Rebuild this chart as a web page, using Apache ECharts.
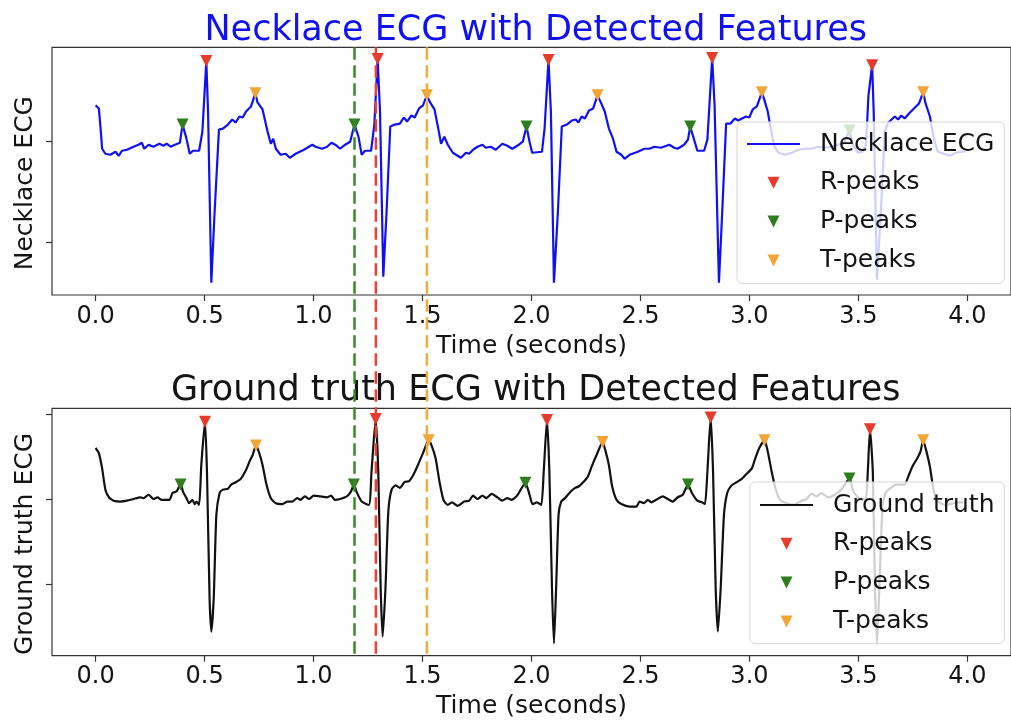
<!DOCTYPE html>
<html>
<head>
<meta charset="utf-8">
<script src="https://cdn.jsdelivr.net/npm/echarts@6/dist/echarts.min.js"></script>
<style>
  html, body { margin: 0; padding: 0; background: #ffffff; }
  #chart { width: 1011px; height: 721px; }
</style>
</head>
<body>
<div id="chart"></div>
<script>
// ---- x axis ----
const timeTicks = [0, 0.5, 1.0, 1.5, 2.0, 2.5, 3.0, 3.5, 4.0];
const timeMin = -0.2;
const timeMax = 4.2;

// ---- necklace ECG: [time (s), amplitude] ----
const necklaceECG = [
  [0.000,0.36],[0.015,0.33],[0.023,0.13],[0.030,-0.07],[0.045,-0.12],[0.068,-0.13],[0.091,-0.10],[0.106,-0.14],
  [0.121,-0.09],[0.144,-0.08],[0.174,-0.05],[0.197,-0.03],[0.212,-0.01],[0.223,-0.07],[0.243,-0.03],[0.265,-0.05],
  [0.293,-0.02],[0.311,-0.04],[0.326,-0.02],[0.344,-0.05],[0.364,-0.03],[0.387,-0.01],[0.399,0.17],[0.417,0.03],
  [0.432,-0.12],[0.447,-0.09],[0.475,-0.09],[0.490,0.10],[0.508,0.80],[0.516,0.30],[0.531,-1.40],[0.546,-0.70],
  [0.566,0.12],[0.584,0.13],[0.607,0.17],[0.627,0.22],[0.642,0.19],[0.660,0.25],[0.675,0.24],[0.690,0.30],
  [0.713,0.35],[0.733,0.48],[0.743,0.39],[0.766,0.32],[0.789,0.10],[0.804,-0.02],[0.815,0.03],[0.827,-0.07],
  [0.849,-0.13],[0.872,-0.12],[0.891,-0.16],[0.918,-0.12],[0.956,-0.08],[0.994,-0.03],[1.009,-0.05],[1.039,-0.07],
  [1.062,-0.05],[1.082,-0.01],[1.100,-0.03],[1.122,-0.07],[1.145,-0.03],[1.168,0.00],[1.188,0.17],[1.206,0.05],
  [1.221,-0.13],[1.236,-0.09],[1.264,-0.09],[1.279,0.17],[1.294,0.82],[1.305,0.30],[1.320,-1.34],[1.335,-0.70],
  [1.352,0.15],[1.373,0.17],[1.396,0.18],[1.414,0.24],[1.429,0.20],[1.449,0.26],[1.464,0.24],[1.484,0.33],
  [1.502,0.36],[1.520,0.46],[1.532,0.40],[1.555,0.32],[1.575,0.10],[1.585,-0.02],[1.600,0.05],[1.616,-0.03],
  [1.639,-0.11],[1.676,-0.16],[1.699,-0.11],[1.714,-0.12],[1.732,-0.08],[1.752,-0.05],[1.775,-0.03],[1.790,-0.06],
  [1.813,-0.05],[1.836,-0.08],[1.866,-0.02],[1.889,-0.04],[1.912,-0.07],[1.942,-0.03],[1.960,0.00],[1.977,0.15],
  [1.991,0.00],[2.003,-0.11],[2.048,-0.10],[2.060,0.13],[2.078,0.81],[2.089,0.30],[2.103,-1.40],[2.121,-0.70],
  [2.139,0.15],[2.162,0.17],[2.185,0.21],[2.203,0.22],[2.215,0.19],[2.230,0.25],[2.245,0.23],[2.264,0.31],
  [2.283,0.33],[2.303,0.46],[2.318,0.39],[2.336,0.30],[2.355,0.13],[2.374,0.03],[2.390,-0.10],[2.412,-0.13],
  [2.427,-0.17],[2.450,-0.13],[2.488,-0.10],[2.518,-0.07],[2.541,-0.07],[2.564,-0.05],[2.594,-0.06],[2.632,-0.03],
  [2.655,-0.06],[2.670,-0.07],[2.700,-0.03],[2.718,0.02],[2.728,0.15],[2.746,0.02],[2.761,-0.09],[2.792,-0.09],
  [2.807,0.02],[2.829,0.83],[2.840,0.36],[2.860,-1.40],[2.875,-0.70],[2.893,0.18],[2.913,0.18],[2.933,0.23],
  [2.948,0.21],[2.966,0.23],[2.984,0.25],[2.999,0.24],[3.015,0.32],[3.034,0.35],[3.057,0.49],[3.069,0.41],
  [3.084,0.30],[3.100,0.10],[3.115,-0.05],[3.133,-0.11],[3.164,-0.13],[3.194,-0.11],[3.224,-0.08],[3.255,-0.07],
  [3.285,-0.07],[3.315,-0.05],[3.346,-0.06],[3.376,-0.05],[3.406,-0.03],[3.433,-0.02],[3.459,0.11],[3.474,-0.03],
  [3.497,-0.11],[3.519,-0.10],[3.535,-0.03],[3.546,0.46],[3.563,0.76],[3.570,0.30],[3.585,-1.37],[3.603,-0.70],
  [3.621,0.10],[3.634,0.18],[3.652,0.22],[3.667,0.25],[3.682,0.22],[3.697,0.26],[3.712,0.23],[3.732,0.28],
  [3.755,0.33],[3.778,0.38],[3.797,0.49],[3.808,0.38],[3.828,0.25],[3.846,0.03],[3.864,-0.10],[3.892,-0.12],
  [3.922,-0.14],[3.945,-0.11],[3.975,-0.10],[3.990,-0.10]
];

// ---- ground truth ECG: [time (s), amplitude] ----
const groundTruthECG = [
  [0.000,0.60],[0.015,0.54],[0.030,0.36],[0.045,0.11],[0.061,0.02],[0.083,-0.02],[0.114,-0.03],[0.144,-0.02],
  [0.174,0.00],[0.205,0.02],[0.220,0.01],[0.243,0.05],[0.265,0.00],[0.284,0.02],[0.303,-0.01],[0.338,-0.01],
  [0.353,0.07],[0.372,0.09],[0.390,0.17],[0.402,0.08],[0.417,0.01],[0.429,-0.05],[0.444,-0.01],[0.455,-0.06],
  [0.463,-0.03],[0.475,-0.07],[0.485,0.40],[0.502,0.91],[0.511,0.32],[0.523,-1.17],[0.531,-1.56],[0.542,-1.17],
  [0.554,-0.19],[0.569,0.07],[0.584,0.11],[0.607,0.12],[0.622,0.17],[0.645,0.20],[0.667,0.24],[0.690,0.34],
  [0.706,0.44],[0.721,0.52],[0.736,0.63],[0.751,0.54],[0.766,0.40],[0.784,0.17],[0.804,0.01],[0.827,-0.05],
  [0.857,-0.06],[0.880,-0.03],[0.903,-0.03],[0.925,0.01],[0.940,-0.01],[0.960,0.03],[0.979,0.00],[1.001,0.04],
  [1.031,0.03],[1.062,0.02],[1.081,0.04],[1.097,-0.01],[1.122,0.00],[1.153,0.03],[1.172,0.09],[1.185,0.17],
  [1.198,0.08],[1.221,-0.03],[1.254,-0.07],[1.266,0.32],[1.285,0.94],[1.297,0.32],[1.308,-1.05],[1.317,-1.62],
  [1.330,-1.05],[1.343,-0.15],[1.358,0.11],[1.377,0.16],[1.396,0.13],[1.418,0.20],[1.438,0.21],[1.457,0.28],
  [1.479,0.40],[1.502,0.54],[1.528,0.69],[1.540,0.64],[1.560,0.48],[1.578,0.20],[1.596,-0.01],[1.616,-0.07],
  [1.635,-0.04],[1.661,-0.08],[1.691,-0.03],[1.714,-0.02],[1.732,0.04],[1.752,0.00],[1.775,0.04],[1.793,0.01],
  [1.817,0.06],[1.843,0.02],[1.866,-0.02],[1.889,0.01],[1.909,-0.01],[1.934,0.04],[1.972,0.19],[1.991,0.05],
  [2.005,-0.06],[2.025,-0.04],[2.045,-0.07],[2.056,0.32],[2.071,0.93],[2.082,0.32],[2.094,-1.05],[2.103,-1.70],
  [2.113,-1.05],[2.124,-0.19],[2.136,-0.03],[2.154,0.01],[2.177,0.08],[2.200,0.13],[2.218,0.15],[2.238,0.20],
  [2.258,0.26],[2.276,0.38],[2.299,0.52],[2.326,0.67],[2.340,0.56],[2.355,0.40],[2.370,0.15],[2.390,-0.01],
  [2.412,-0.06],[2.450,-0.09],[2.481,-0.09],[2.496,-0.03],[2.515,-0.05],[2.534,-0.01],[2.549,-0.04],[2.572,-0.01],
  [2.602,0.03],[2.625,0.00],[2.648,-0.03],[2.671,0.02],[2.694,0.05],[2.718,0.17],[2.736,0.07],[2.761,-0.02],
  [2.784,-0.04],[2.796,-0.06],[2.807,0.32],[2.822,0.96],[2.833,0.32],[2.845,-1.05],[2.855,-1.56],[2.868,-1.05],
  [2.883,-0.19],[2.898,0.07],[2.918,0.16],[2.943,0.20],[2.966,0.24],[2.989,0.30],[3.011,0.36],[3.027,0.48],
  [3.045,0.60],[3.069,0.69],[3.084,0.56],[3.102,0.32],[3.121,0.11],[3.141,-0.01],[3.171,-0.05],[3.202,-0.07],
  [3.232,-0.03],[3.262,0.00],[3.285,0.06],[3.308,0.03],[3.330,0.07],[3.361,0.02],[3.391,0.05],[3.421,0.11],
  [3.459,0.24],[3.474,0.11],[3.497,0.02],[3.519,-0.01],[3.535,0.01],[3.543,0.32],[3.553,0.82],[3.566,0.32],
  [3.576,-1.05],[3.585,-1.70],[3.596,-1.05],[3.611,-0.07],[3.626,0.08],[3.649,0.13],[3.671,0.17],[3.694,0.17],
  [3.712,0.17],[3.728,0.26],[3.747,0.38],[3.770,0.48],[3.785,0.56],[3.797,0.69],[3.812,0.56],[3.828,0.38],
  [3.843,0.13],[3.858,-0.01],[3.876,-0.05],[3.906,-0.07],[3.937,-0.05],[3.967,-0.04],[3.980,-0.04]
];

// ---- detected features, necklace ----
const neckRTimes = [0.508, 1.294, 2.078, 2.829, 3.563];
const neckRValues = [0.80, 0.82, 0.81, 0.83, 0.76];
const neckPTimes = [0.399, 1.188, 1.977, 2.728, 3.459];
const neckPValues = [0.17, 0.17, 0.15, 0.15, 0.11];
const neckTTimes = [0.733, 1.520, 2.303, 3.057, 3.797];
const neckTValues = [0.48, 0.46, 0.46, 0.49, 0.49];

// ---- detected features, ground truth ----
const gtRTimes = [0.502, 1.285, 2.071, 2.822, 3.553];
const gtRValues = [0.91, 0.94, 0.93, 0.96, 0.82];
const gtPTimes = [0.390, 1.185, 1.972, 2.718, 3.459];
const gtPValues = [0.17, 0.17, 0.19, 0.17, 0.24];
const gtTTimes = [0.736, 1.528, 2.326, 3.069, 3.797];
const gtTValues = [0.63, 0.69, 0.67, 0.69, 0.69];

// ---- reference instants marked across both panels (P, R, T) ----
const guideTimes = [1.188, 1.286, 1.520];

// ---- amplitude ranges and tick positions ----
const neckYMin = -1.522, neckYMax = 0.937;
const neckYTicks = [-1, 0];
const gtYMin = -1.844, gtYMax = 1.067;
const gtYTicks = [-1, 0, 1];

const C = {
  necklace: '#1010f0',
  truth: '#111111',
  r: '#e63a2b',
  p: '#2e7d1e',
  t: '#f2a537',
  rGuide: '#e8413a',
  pGuide: '#3a8a2a',
  tGuide: '#f3aa3e',
  axis: '#333333',
  text: '#141414'
};
const FONT = "'DejaVu Sans', 'Liberation Sans', sans-serif";
const TRI = 'path://M0,0L20,0L10,20Z';
const LINE_ICON = 'path://M0,0H53V2.2H0Z';

const pairs = (ts, vs) => ts.map((t, i) => [t, vs[i]]);

function xAxisFor(gridIndex, nameGap, labelMargin) {
  return {
    type: 'value', gridIndex, min: timeMin, max: timeMax,
    name: 'Time (seconds)', nameLocation: 'middle', nameGap,
    nameTextStyle: { fontSize: 25, color: C.text, fontFamily: FONT },
    axisLine: { show: false, onZero: false },
    axisTick: { show: true, length: 6, customValues: timeTicks, lineStyle: { color: C.axis, width: 1.2 } },
    axisLabel: { show: true, customValues: timeTicks, margin: labelMargin, fontSize: 24, color: C.text, fontFamily: FONT,
                 formatter: v => v.toFixed(1) },
    splitLine: { show: false }
  };
}
function yAxisFor(gridIndex, name, min, max, ticks) {
  return {
    type: 'value', gridIndex, min, max,
    name, nameLocation: 'middle', nameGap: 14,
    nameTextStyle: { fontSize: 25, color: C.text, fontFamily: FONT, padding: [0, 24, 0, 0] },
    axisLine: { show: false, onZero: false },
    axisTick: { show: true, length: 6, customValues: ticks, lineStyle: { color: C.axis, width: 1.2 } },
    axisLabel: { show: false },
    splitLine: { show: false }
  };
}
function peakSeries(name, data, color, axisIndex) {
  return {
    type: 'scatter', name, data, xAxisIndex: axisIndex, yAxisIndex: axisIndex,
    symbol: TRI, symbolSize: 12, itemStyle: { color, opacity: 1 }, z: 3, silent: true
  };
}
function legendFor(lineName, left, top, pad) {
  return {
    data: [{ name: lineName, icon: LINE_ICON }, 'R-peaks', 'P-peaks', 'T-peaks'],
    orient: 'vertical', left, top,
    selectedMode: false,
    itemWidth: 53, itemHeight: 12, itemGap: 8.8,
    padding: pad,
    backgroundColor: 'rgba(255,255,255,0.8)',
    borderColor: '#d6d6d6', borderWidth: 1, borderRadius: 5,
    textStyle: { fontSize: 25, color: C.text, fontFamily: FONT, lineHeight: 30, padding: [0, 0, 0, 15] },
    z: 10
  };
}

const chart = echarts.init(document.getElementById('chart'), null, { renderer: 'canvas' });

chart.setOption({
  animation: false,
  backgroundColor: '#ffffff',
  title: [
    { text: 'Necklace ECG with Detected Features', left: 535.7, top: 30.5, padding: 0,
      textAlign: 'center', textVerticalAlign: 'middle',
      textStyle: { fontSize: 35, fontWeight: 'normal', color: C.necklace, fontFamily: FONT } },
    { text: 'Ground truth ECG with Detected Features', left: 535.7, top: 390.5, padding: 0,
      textAlign: 'center', textVerticalAlign: 'middle',
      textStyle: { fontSize: 35, fontWeight: 'normal', color: C.text, fontFamily: FONT } }
  ],
  grid: [
    { left: 52, top: 47.3, width: 967.4, height: 247.7, show: true, borderColor: C.axis, borderWidth: 1.2, backgroundColor: 'transparent' },
    { left: 52, top: 408.3, width: 967.4, height: 247.4, show: true, borderColor: C.axis, borderWidth: 1.2, backgroundColor: 'transparent' }
  ],
  xAxis: [xAxisFor(0, 39, 10), xAxisFor(1, 38.5, 9.5)],
  yAxis: [
    yAxisFor(0, 'Necklace ECG', neckYMin, neckYMax, neckYTicks),
    yAxisFor(1, 'Ground truth ECG', gtYMin, gtYMax, gtYTicks)
  ],
  legend: [
    legendFor('Necklace ECG', 737, 122, [7, 10, 8, 10]),
    legendFor('Ground truth', 750, 482, [8, 10, 7, 10])
  ],
  series: [
    { type: 'line', name: 'Necklace ECG', data: necklaceECG, xAxisIndex: 0, yAxisIndex: 0,
      symbol: 'none', lineStyle: { color: C.necklace, width: 2.2 }, itemStyle: { color: C.necklace }, z: 2, silent: true },
    peakSeries('R-peaks', pairs(neckRTimes, neckRValues), C.r, 0),
    peakSeries('P-peaks', pairs(neckPTimes, neckPValues), C.p, 0),
    peakSeries('T-peaks', pairs(neckTTimes, neckTValues), C.t, 0),
    { type: 'line', name: 'Ground truth', data: groundTruthECG, xAxisIndex: 1, yAxisIndex: 1,
      symbol: 'none', smooth: 0.2, lineStyle: { color: C.truth, width: 2.2 }, itemStyle: { color: C.truth }, z: 2, silent: true },
    peakSeries('R-peaks', pairs(gtRTimes, gtRValues), C.r, 1),
    peakSeries('P-peaks', pairs(gtPTimes, gtPValues), C.p, 1),
    peakSeries('T-peaks', pairs(gtTTimes, gtTValues), C.t, 1)
  ]
});

// dashed markers running through both panels at the reference instants
const guideColors = [C.pGuide, C.rGuide, C.tGuide];
const yTop = chart.convertToPixel({ gridIndex: 0 }, [0, neckYMax])[1];
const yBottom = chart.convertToPixel({ gridIndex: 1 }, [0, gtYMin])[1];
chart.setOption({
  graphic: guideTimes.map((t, i) => {
    const x = chart.convertToPixel({ gridIndex: 0 }, [t, 0])[0];
    return {
      type: 'line', z: 100, silent: true,
      shape: { x1: x, y1: yTop, x2: x, y2: yBottom },
      style: { stroke: guideColors[i], lineWidth: 2.5, lineDash: [12.5, 5.5] }
    };
  })
});
</script>
</body>
</html>
